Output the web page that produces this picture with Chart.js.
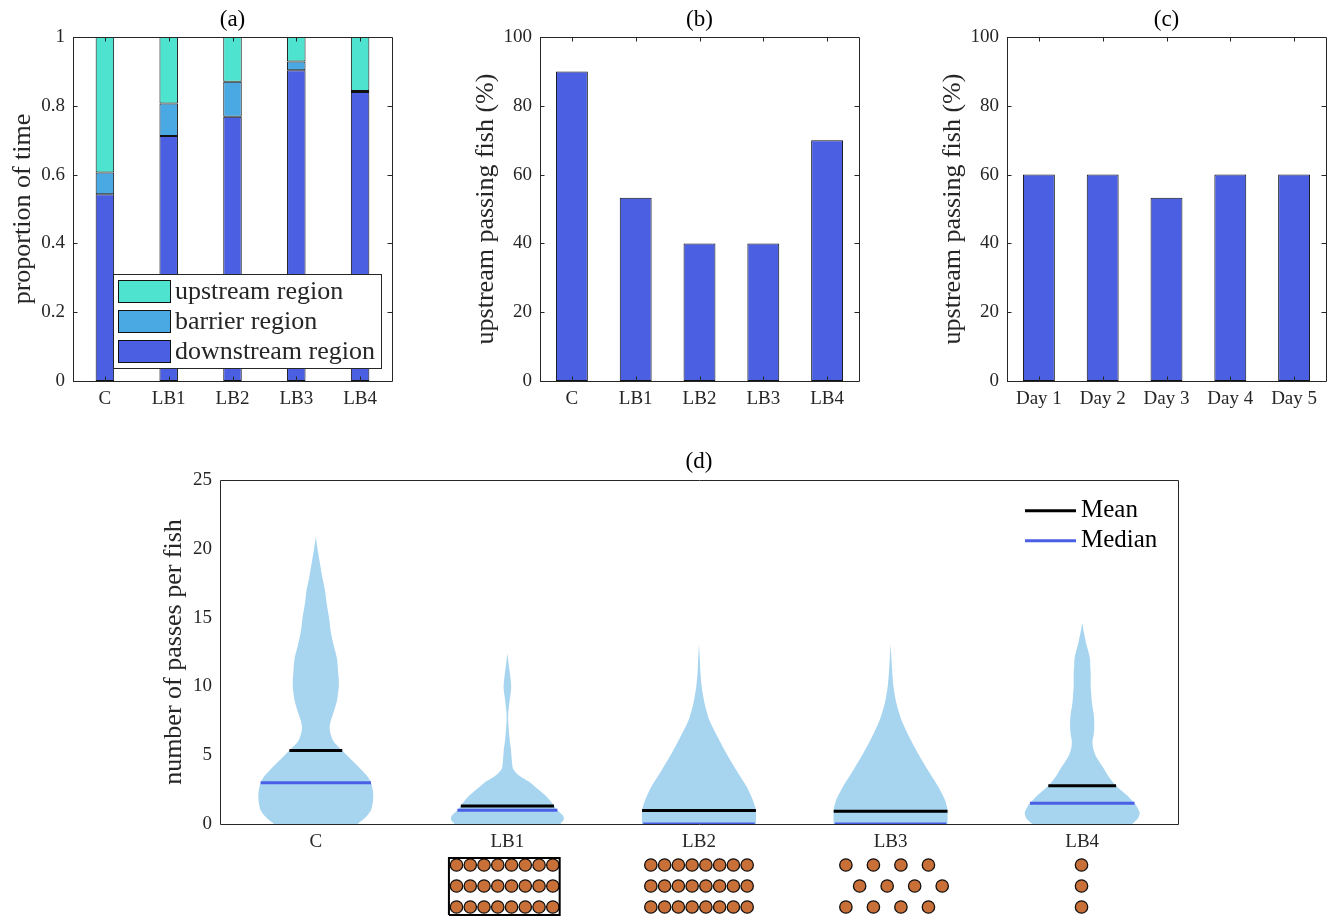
<!DOCTYPE html>
<html>
<head>
<meta charset="utf-8">
<script src="https://cdn.jsdelivr.net/npm/chart.js@4.4.1/dist/chart.umd.min.js"></script>
<style>
  html, body { margin: 0; padding: 0; background: #fff; overflow: hidden; }
  body { width: 1333px; height: 917px; position: relative; }
  canvas { position: absolute; display: block; }
</style>
</head>
<body>
<canvas id="chart-a" width="410" height="420" style="left:0;top:0"></canvas>
<canvas id="chart-b" width="430" height="420" style="left:440px;top:0"></canvas>
<canvas id="chart-c" width="426" height="420" style="left:907px;top:0"></canvas>
<canvas id="chart-d" width="1333" height="420" style="left:0;top:440px"></canvas>
<canvas id="chart-dots" width="1333" height="84" style="left:0;top:844px"></canvas>
<script>
(function () {
  'use strict';

  const FONT = "'Liberation Serif', 'Times New Roman', serif";
  const INK = '#262626';

  // (a) proportion of time per region
  const groups = ['C', 'LB1', 'LB2', 'LB3', 'LB4'];
  const downstreamShare = [0.543, 0.712, 0.768, 0.903, 0.840];
  const barrierShare = [0.063, 0.095, 0.102, 0.026, 0.003];
  const upstreamShare = [0.394, 0.193, 0.130, 0.071, 0.157];

  // (b) and (c) upstream passing fish (%)
  const passingByGroup = [90, 53.3, 40, 40, 70];
  const days = ['Day 1', 'Day 2', 'Day 3', 'Day 4', 'Day 5'];
  const passingByDay = [60, 60, 53.3, 60, 60];

  // (d) violin outlines: levels (passes) and relative half widths
  const levelsC = [0, 0.5, 1, 1.5, 2, 2.5, 3, 3.5, 4, 4.5, 5, 5.5, 6, 6.5, 7, 7.5, 8, 9, 10, 10.5, 11, 12, 13, 14, 15, 16, 17, 18, 19, 20, 20.9];
  const densityC = [0.73, 0.87, 0.96, 0.99, 1.0, 0.99, 0.96, 0.89, 0.78, 0.66, 0.54, 0.42, 0.31, 0.26, 0.24, 0.26, 0.30, 0.37, 0.40, 0.40, 0.39, 0.37, 0.31, 0.26, 0.23, 0.19, 0.16, 0.11, 0.07, 0.03, 0];
  const levelsLB1 = [0, 0.3, 0.6, 1, 1.5, 2, 2.5, 3, 3.5, 4, 4.5, 5, 5.5, 6, 6.5, 7, 7.5, 8, 8.5, 9, 9.5, 10, 10.5, 11, 11.5, 12, 12.4];
  const densityLB1 = [0.92, 0.98, 0.97, 0.87, 0.78, 0.68, 0.54, 0.40, 0.21, 0.10, 0.08, 0.07, 0.06, 0.043, 0.031, 0.021, 0.014, 0.014, 0.026, 0.04, 0.057, 0.066, 0.057, 0.043, 0.026, 0.012, 0];
  const levelsLB2 = [0, 1, 1.7, 2.7, 3.9, 5.1, 6.35, 7.55, 8.8, 10, 11, 12, 13.1];
  const densityLB2 = [0.99, 0.99, 0.94, 0.83, 0.65, 0.48, 0.32, 0.18, 0.096, 0.047, 0.026, 0.014, 0];
  const levelsLB3 = [0, 1, 1.7, 2.7, 3.9, 5.1, 6.35, 7.55, 8.8, 10, 11.2, 12.2, 13.1];
  const densityLB3 = [0.99, 0.99, 0.95, 0.83, 0.65, 0.48, 0.32, 0.19, 0.10, 0.05, 0.026, 0.012, 0];
  const levelsLB4 = [0, 0.4, 0.8, 1.2, 1.5, 2, 2.5, 3, 3.5, 4, 4.5, 5, 5.5, 6, 6.5, 7, 7.5, 8, 8.5, 9, 9.5, 10, 10.5, 11, 11.5, 12, 12.5, 13, 13.5, 14, 14.6];
  const densityLB4 = [0.87, 0.97, 1.0, 0.96, 0.91, 0.80, 0.66, 0.54, 0.45, 0.38, 0.30, 0.23, 0.19, 0.18, 0.20, 0.21, 0.21, 0.20, 0.18, 0.165, 0.157, 0.148, 0.148, 0.148, 0.14, 0.135, 0.11, 0.075, 0.05, 0.025, 0];

  const meanPasses = [5.35, 1.3, 0.99, 0.92, 2.78];
  const medianPasses = [3.0, 1.0, 0, 0, 1.5];
  const meanSpan = [0.46, 0.81, 0.99, 0.99, 0.59];
  const medianSpan = [0.96, 0.87, 0.97, 0.97, 0.91];

  // barrier layouts under (d): columns in dot pitches, rows top to bottom
  const dotRows = [3, 2, 1];
  const lb1Columns = [-3.7, -2.7, -1.7, -0.7, 0.3, 1.3, 2.3, 3.3];
  const lb2Columns = [-3.5, -2.5, -1.5, -0.5, 0.5, 1.5, 2.5, 3.5];
  const lb3OuterColumns = [-3.25, -1.25, 0.75, 2.75];
  const lb3MiddleColumns = [-2.25, -0.25, 1.75, 3.75];
  const lb4Columns = [-0.05];
  const lb1FrameColumns = [-4.25, 3.8];
  const lb1FrameRows = [0.62, 3.33];

  const COLORS = {
    downstream: '#4b5fe3',
    barrier: '#4aa8e3',
    upstream: '#4ee3cf',
    edge: '#111111',
    violin: '#a7d5f0',
    median: '#4a5fe6',
    dot: '#c97038',
  };
  const VIOLIN_HALF = 0.3;
  const DOT_PITCH = 0.0718;

  // axes box and inward MATLAB style ticks
  const axesBox = {
    id: 'axesBox',
    afterDatasetsDraw(chart, args, opts) {
      const ctx = chart.ctx;
      const a = chart.chartArea;
      ctx.save();
      ctx.strokeStyle = INK;
      ctx.lineWidth = 1;
      ctx.beginPath();
      if (opts.ticks) {
        const len = 4.5;
        const ys = chart.scales.y;
        ys.ticks.forEach(function (t) {
          const py = Math.round(ys.getPixelForValue(t.value)) + 0.5;
          ctx.moveTo(a.left, py); ctx.lineTo(a.left + len, py);
          ctx.moveTo(a.right, py); ctx.lineTo(a.right - len, py);
        });
        const xs = chart.scales.x;
        xs.ticks.forEach(function (t, i) {
          const px = Math.round(xs.getPixelForTick(i)) + 0.5;
          ctx.moveTo(px, a.bottom); ctx.lineTo(px, a.bottom - len);
          ctx.moveTo(px, a.top); ctx.lineTo(px, a.top + len);
        });
      }
      ctx.rect(Math.round(a.left) + 0.5, Math.round(a.top) + 0.5, Math.round(a.width), Math.round(a.height));
      ctx.stroke();
      ctx.restore();
    },
  };

  // legend box inside panel (a)
  const boxLegend = {
    id: 'boxLegend',
    afterDraw(chart, args, o) {
      if (!o.display) return;
      const ctx = chart.ctx;
      const a = chart.chartArea;
      const items = chart.data.datasets.slice().reverse();
      ctx.save();
      ctx.font = o.fontSize + 'px ' + FONT;
      const textW = Math.max.apply(null, items.map(function (d) { return ctx.measureText(d.label).width; }));
      const w = o.padX + o.patchW + o.gap + textW + o.padRight;
      const h = items.length * o.rowH + o.padY * 2;
      const x = Math.round(a.right - o.insetRight - w);
      const y = Math.round(a.bottom - o.insetBottom - h);
      ctx.fillStyle = '#fff';
      ctx.fillRect(x, y, w, h);
      ctx.strokeStyle = INK;
      ctx.lineWidth = 1;
      ctx.strokeRect(x + 0.5, y + 0.5, Math.round(w), Math.round(h));
      items.forEach(function (d, i) {
        const cy = y + o.padY + o.rowH * (i + 0.5);
        const px = x + o.padX;
        ctx.fillStyle = d.backgroundColor;
        ctx.fillRect(px, cy - o.patchH / 2, o.patchW, o.patchH);
        ctx.strokeStyle = COLORS.edge;
        ctx.strokeRect(px + 0.5, Math.round(cy - o.patchH / 2) + 0.5, o.patchW, o.patchH);
        ctx.fillStyle = INK;
        ctx.textBaseline = 'middle';
        ctx.textAlign = 'left';
        ctx.fillText(d.label, px + o.patchW + o.gap, cy + 1);
      });
      ctx.restore();
    },
  };

  // line legend (no box) in panel (d)
  const lineLegend = {
    id: 'lineLegend',
    afterDraw(chart, args, o) {
      const ctx = chart.ctx;
      const a = chart.chartArea;
      const seen = {};
      const items = chart.data.datasets.filter(function (d) {
        if (!d.legendEntry || seen[d.label]) return false;
        seen[d.label] = true;
        return true;
      });
      ctx.save();
      ctx.font = o.fontSize + 'px ' + FONT;
      items.forEach(function (d, i) {
        const cy = a.top + o.top + o.rowH * i;
        const x0 = a.right - o.fromRight;
        ctx.strokeStyle = d.borderColor;
        ctx.lineWidth = d.borderWidth;
        ctx.beginPath();
        ctx.moveTo(x0, cy);
        ctx.lineTo(x0 + o.lineW, cy);
        ctx.stroke();
        ctx.fillStyle = '#000';
        ctx.textBaseline = 'middle';
        ctx.textAlign = 'left';
        ctx.fillText(d.label, x0 + o.lineW + o.gap, cy);
      });
      ctx.restore();
    },
  };

  function tickFont() { return { family: FONT, size: 19 }; }

  function yAxis(min, max, step, title, titlePad, width) {
    return {
      min: min,
      max: max,
      ticks: {
        stepSize: step, color: INK, font: tickFont(), padding: 8,
        callback: function (v) { return String(Math.round(v * 100) / 100); },
      },
      grid: { display: false, drawTicks: false },
      border: { display: false },
      title: {
        display: true,
        text: title,
        color: INK,
        font: { family: FONT, size: 26 },
        padding: { top: titlePad, bottom: 0 },
      },
      afterFit: function (s) { s.width = width; },
    };
  }

  function xAxis(height) {
    return {
      ticks: { color: INK, font: tickFont(), padding: 7, maxRotation: 0, autoSkip: false },
      grid: { display: false, drawTicks: false },
      border: { display: false },
      afterFit: function (s) { s.height = height; },
    };
  }

  function panelTitle(text, padTop, padBottom) {
    return {
      display: true,
      text: text,
      color: '#000',
      fullSize: false,
      font: { family: FONT, size: 23, weight: 'normal' },
      padding: { top: padTop, bottom: padBottom },
    };
  }

  function barDataset(label, values, color) {
    return {
      label: label,
      data: values,
      backgroundColor: color,
      borderColor: COLORS.edge,
      borderWidth: 1,
      borderSkipped: false,
      inflateAmount: 0,
    };
  }

  const common = {
    responsive: false,
    animation: false,
    events: [],
  };

  // (a)
  new Chart(document.getElementById('chart-a'), {
    type: 'bar',
    data: {
      labels: groups,
      datasets: [
        barDataset('downstream region', downstreamShare, COLORS.downstream),
        barDataset('barrier region', barrierShare, COLORS.barrier),
        barDataset('upstream region', upstreamShare, COLORS.upstream),
      ],
    },
    options: Object.assign({}, common, {
      layout: { padding: { right: 18 } },
      datasets: { bar: { barPercentage: 0.29, categoryPercentage: 1 } },
      scales: {
        x: Object.assign(xAxis(39), { stacked: true }),
        y: Object.assign(yAxis(0, 1, 0.2, 'proportion of time', 8, 73), { stacked: true }),
      },
      plugins: {
        title: panelTitle('(a)', 6, 3.4),
        legend: { display: false },
        tooltip: { enabled: false },
        axesBox: { ticks: true },
        boxLegend: {
          display: true, fontSize: 26, padX: 5, padY: 2.2, patchW: 52, patchH: 22,
          gap: 5, padRight: 6, rowH: 30, insetRight: 11, insetBottom: 13,
        },
      },
    }),
    plugins: [axesBox, boxLegend],
  });

  // (b) and (c)
  function passingChart(id, labels, values, title, rightPad) {
    new Chart(document.getElementById(id), {
      type: 'bar',
      data: { labels: labels, datasets: [barDataset('passing', values, COLORS.downstream)] },
      options: Object.assign({}, common, {
        layout: { padding: { right: rightPad } },
        datasets: { bar: { barPercentage: 0.5, categoryPercentage: 1 } },
        scales: {
          x: xAxis(39),
          y: yAxis(0, 100, 20, 'upstream passing fish (%)', 30.5, 100),
        },
        plugins: {
          title: panelTitle(title, 6, 3.4),
          legend: { display: false },
          tooltip: { enabled: false },
          axesBox: { ticks: true },
        },
      }),
      plugins: [axesBox],
    });
  }
  passingChart('chart-b', groups, passingByGroup, '(b)', 11);
  passingChart('chart-c', days, passingByDay, '(c)', 7);

  // (d) violins
  const violinLevels = [levelsC, levelsLB1, levelsLB2, levelsLB3, levelsLB4];
  const violinDensity = [densityC, densityLB1, densityLB2, densityLB3, densityLB4];

  const violinSets = groups.map(function (g, i) {
    const lv = violinLevels[i];
    const dn = violinDensity[i];
    const left = lv.map(function (y, k) { return { x: i - dn[k] * VIOLIN_HALF, y: y }; });
    const right = lv.map(function (y, k) { return { x: i + dn[k] * VIOLIN_HALF, y: y }; }).reverse();
    return {
      label: g,
      data: left.concat(right),
      showLine: true,
      fill: 'shape',
      backgroundColor: COLORS.violin,
      borderColor: 'rgba(0,0,0,0)',
      borderWidth: 0,
      pointRadius: 0,
      tension: 0.25,
      order: 1,
    };
  });

  function statLine(label, i, value, span, color) {
    return {
      label: label,
      legendEntry: true,
      data: [
        { x: i - span * VIOLIN_HALF, y: value },
        { x: i + span * VIOLIN_HALF, y: value },
      ],
      showLine: true,
      fill: false,
      borderColor: color,
      borderWidth: 3,
      borderCapStyle: 'butt',
      pointRadius: 0,
      order: 0,
    };
  }

  const meanSets = groups.map(function (g, i) { return statLine('Mean', i, meanPasses[i], meanSpan[i], '#000'); });
  const medianSets = groups.map(function (g, i) { return statLine('Median', i, medianPasses[i], medianSpan[i], COLORS.median); });

  function categoryX(height) {
    return {
      type: 'linear',
      min: -0.5,
      max: 4.5,
      afterBuildTicks: function (s) { s.ticks = groups.map(function (g, i) { return { value: i }; }); },
      ticks: {
        color: INK, font: tickFont(), padding: 7, maxRotation: 0, autoSkip: false,
        callback: function (v) { return groups[v]; },
      },
      grid: { display: false, drawTicks: false },
      border: { display: false },
      afterFit: function (s) { s.height = height; },
    };
  }

  new Chart(document.getElementById('chart-d'), {
    type: 'scatter',
    data: { datasets: meanSets.concat(medianSets, violinSets) },
    options: Object.assign({}, common, {
      layout: { autoPadding: false, padding: { right: 155 } },
      scales: {
        x: categoryX(36),
        y: yAxis(0, 25, 5, 'number of passes per fish', 158.5, 220),
      },
      plugins: {
        title: panelTitle('(d)', 8, 4.4),
        legend: { display: false },
        tooltip: { enabled: false },
        axesBox: { ticks: false },
        lineLegend: { fontSize: 25, top: 30.7, rowH: 30, fromRight: 153, lineW: 51, gap: 5 },
      },
    }),
    plugins: [axesBox, lineLegend],
  });

  // barrier layouts drawn on the same x scale as (d)
  function dotsFor(i, columns, rows) {
    const pts = [];
    rows.forEach(function (r) {
      columns.forEach(function (c) { pts.push({ x: i + c * DOT_PITCH, y: r }); });
    });
    return pts;
  }
  const dotPoints = []
    .concat(dotsFor(1, lb1Columns, dotRows))
    .concat(dotsFor(2, lb2Columns, dotRows))
    .concat(dotsFor(3, lb3OuterColumns, [dotRows[0], dotRows[2]]))
    .concat(dotsFor(3, lb3MiddleColumns, [dotRows[1]]))
    .concat(dotsFor(4, lb4Columns, dotRows));

  const frame = [
    { x: 1 + lb1FrameColumns[0] * DOT_PITCH, y: lb1FrameRows[0] },
    { x: 1 + lb1FrameColumns[0] * DOT_PITCH, y: lb1FrameRows[1] },
    { x: 1 + lb1FrameColumns[1] * DOT_PITCH, y: lb1FrameRows[1] },
    { x: 1 + lb1FrameColumns[1] * DOT_PITCH, y: lb1FrameRows[0] },
    { x: 1 + lb1FrameColumns[0] * DOT_PITCH, y: lb1FrameRows[0] },
  ];

  new Chart(document.getElementById('chart-dots'), {
    type: 'scatter',
    data: {
      datasets: [
        {
          label: 'frame',
          data: frame,
          showLine: true,
          borderColor: '#000',
          borderWidth: 2,
          borderJoinStyle: 'miter',
          pointRadius: 0,
          fill: false,
        },
        {
          label: 'dots',
          data: dotPoints,
          pointRadius: 6.2,
          pointStyle: 'circle',
          backgroundColor: COLORS.dot,
          borderColor: '#111',
          borderWidth: 1.3,
        },
      ],
    },
    options: Object.assign({}, common, {
      clip: false,
      layout: { autoPadding: false, padding: { left: 220, right: 155, top: 0, bottom: 0 } },
      scales: {
        x: { type: 'linear', display: false, min: -0.5, max: 4.5 },
        y: { type: 'linear', display: false, min: 0, max: 4 },
      },
      plugins: { legend: { display: false }, tooltip: { enabled: false } },
    }),
  });
})();
</script>
</body>
</html>
